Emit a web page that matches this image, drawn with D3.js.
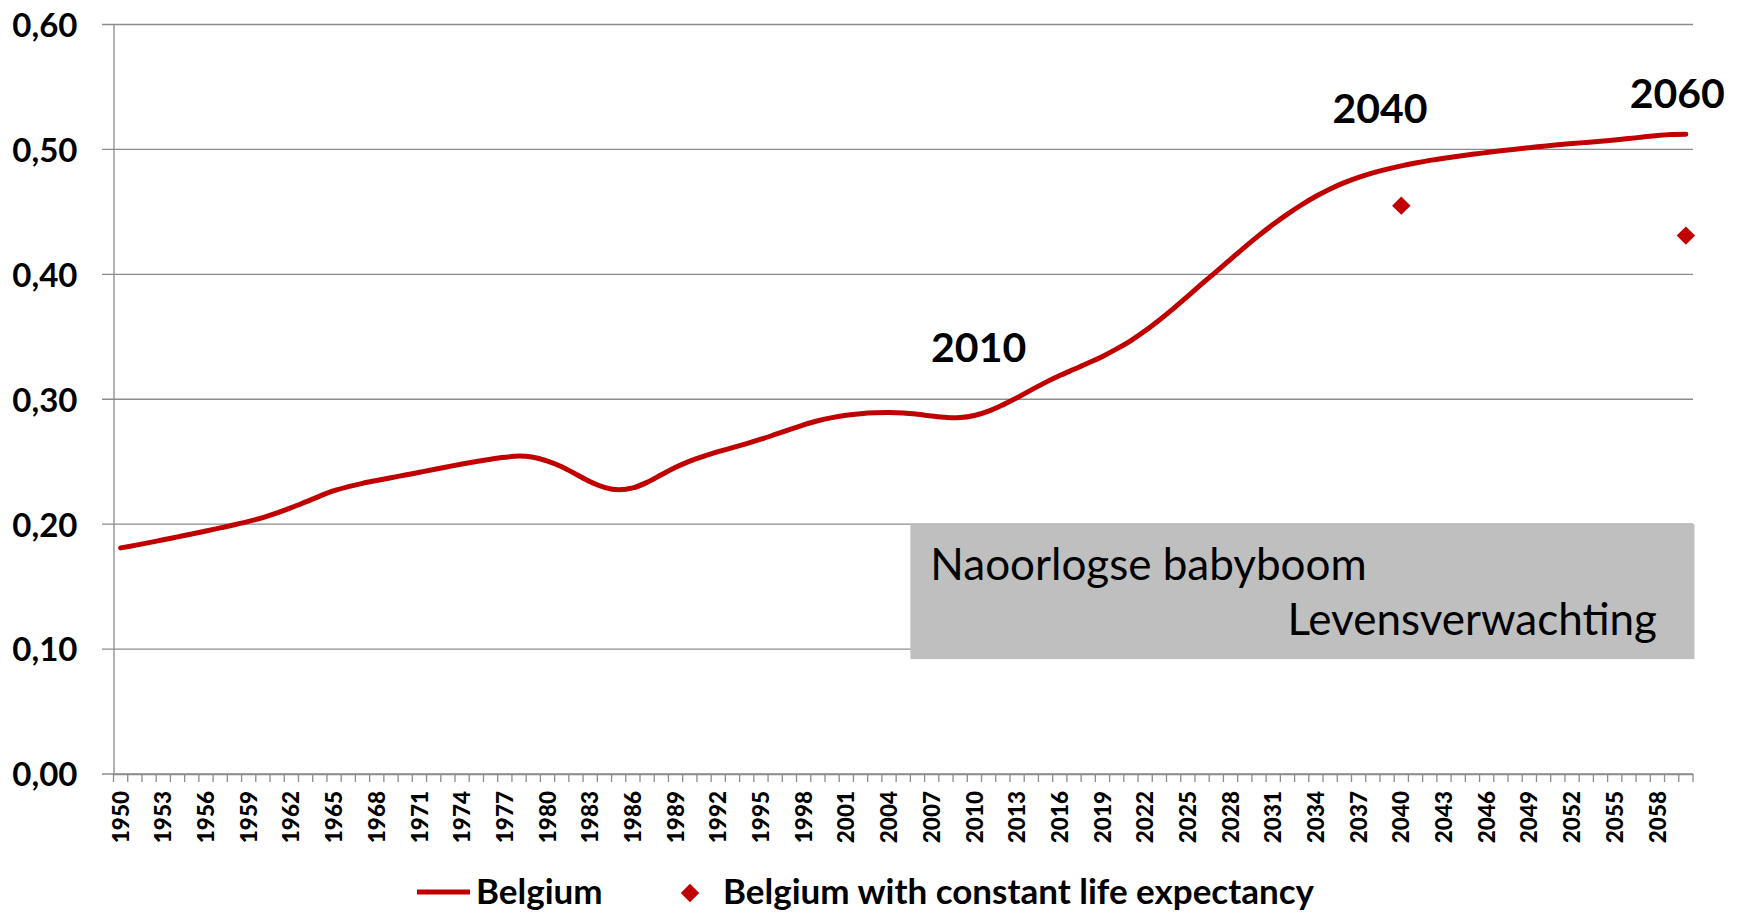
<!DOCTYPE html>
<html>
<head>
<meta charset="utf-8">
<script src="https://cdn.jsdelivr.net/npm/d3@7"></script>
<style>
  body { margin: 0; background: #fff; }
  text { font-family: Lato, "Open Sans", sans-serif; }
</style>
</head>
<body>
<div id="chart"></div>
<script>
// Belgium - ratio over the years (1950-2060)
var years = d3.range(1950, 2061);

var belgium = [
  0.1810, 0.1830, 0.1852, 0.1875, 0.1898, 0.1921, 0.1945, 0.1970, 0.1995, 0.2022,
  0.2053, 0.2090, 0.2132, 0.2178, 0.2225, 0.2268, 0.2300, 0.2327, 0.2350, 0.2372,
  0.2393, 0.2415, 0.2437, 0.2460, 0.2482, 0.2502, 0.2520, 0.2535, 0.2545, 0.2535,
  0.2505, 0.2460, 0.2400, 0.2340, 0.2295, 0.2275, 0.2290, 0.2335, 0.2395, 0.2455,
  0.2505, 0.2545, 0.2580, 0.2612, 0.2645, 0.2680, 0.2718, 0.2757, 0.2795, 0.2828,
  0.2853, 0.2872, 0.2884, 0.2891, 0.2893, 0.2890, 0.2880, 0.2866, 0.2855, 0.2853,
  0.2870, 0.2905, 0.2955, 0.3012, 0.3075, 0.3135, 0.3190, 0.3240, 0.3290, 0.3343,
  0.3403, 0.3470, 0.3548, 0.3635, 0.3728, 0.3825, 0.3925, 0.4022, 0.4120, 0.4218,
  0.4312, 0.4400, 0.4482, 0.4557, 0.4625, 0.4684, 0.4734, 0.4776, 0.4812, 0.4842,
  0.4868, 0.4891, 0.4912, 0.4930, 0.4946, 0.4961, 0.4975, 0.4989, 0.5002, 0.5014,
  0.5026, 0.5037, 0.5047, 0.5056, 0.5065, 0.5075, 0.5087, 0.5100, 0.5112, 0.5120,
  0.5122
];

// constant life expectancy scenario (only two points)
var constYears = [2040, 2060];
var constValues = [0.455, 0.431];

var yTicks = [0, 0.1, 0.2, 0.3, 0.4, 0.5, 0.6];
var xLabelYears = d3.range(1950, 2059, 3);

var notes = [
  { text: "2010", year: 2010.3, value: 0.330 },
  { text: "2040", year: 2038.5, value: 0.5215 },
  { text: "2060", year: 2059.4, value: 0.5335 }
];

var svgWidth = 1740;
var svgHeight = 913;

var margin = { top: 24.5, right: 47, bottom: 139, left: 113.5 };
var width = svgWidth - margin.left - margin.right;
var height = svgHeight - margin.top - margin.bottom;

var red = "#C00000";
var grid = "#8c8c8c";

var svg = d3.select("#chart")
  .append("svg")
  .attr("width", svgWidth)
  .attr("height", svgHeight);

var chartGroup = svg.append("g")
  .attr("transform", `translate(${margin.left}, ${margin.top})`);

// scales
var xBand = d3.scaleBand()
  .domain(years)
  .range([0, width])
  .padding(0);
var bw = xBand.bandwidth();
var xc = function (yr) { return xBand(Math.floor(yr)) + bw / 2 + (yr - Math.floor(yr)) * bw; };

var yScale = d3.scaleLinear()
  .domain([0, 0.6])
  .range([height, 0]);

var nl = d3.formatLocale({ decimal: ",", thousands: ".", grouping: [3], currency: ["", " €"] });

// gridlines
chartGroup.selectAll(".grid")
  .data(yTicks)
  .enter()
  .append("line")
  .attr("x1", -11.5)
  .attr("x2", width)
  .attr("y1", d => yScale(d))
  .attr("y2", d => yScale(d))
  .attr("stroke", grid)
  .attr("stroke-width", 1.3);

// y axis
var leftAxis = d3.axisLeft(yScale)
  .tickValues(yTicks)
  .tickFormat(nl.format(".2f"))
  .tickSize(0)
  .tickPadding(36);

var yAxisG = chartGroup.append("g").call(leftAxis);
yAxisG.select(".domain").attr("stroke", grid).attr("stroke-width", 1.3);
yAxisG.selectAll("text")
  .attr("font-family", "Lato, sans-serif")
  .attr("font-size", 33)
  .attr("font-weight", "bold")
  .attr("fill", "#000")
  .attr("dy", "0.36em");

// x axis
var bottomAxis = d3.axisBottom(xBand)
  .tickValues(xLabelYears)
  .tickSize(0)
  .tickPadding(0);

var xAxisG = chartGroup.append("g")
  .attr("transform", `translate(0, ${height})`)
  .call(bottomAxis);
xAxisG.select(".domain").attr("stroke", grid).attr("stroke-width", 1.3);
xAxisG.selectAll("text")
  .attr("font-family", "Lato, sans-serif")
  .attr("font-size", 22.5)
  .attr("font-weight", "900")
  .attr("fill", "#000")
  .attr("text-anchor", "end")
  .attr("transform", "translate(0, 17) rotate(-90)")
  .attr("x", 0)
  .attr("y", 0)
  .attr("dy", "0.36em");

// tick marks between categories
xAxisG.selectAll(".catTick")
  .data(years.concat([2061]))
  .enter()
  .append("line")
  .attr("x1", d => d === 2061 ? width : xBand(d))
  .attr("x2", d => d === 2061 ? width : xBand(d))
  .attr("y1", 0)
  .attr("y2", 8)
  .attr("stroke", grid)
  .attr("stroke-width", 1.3);

// annotation box
var boxX = xBand(2006);
chartGroup.append("rect")
  .attr("x", boxX)
  .attr("y", yScale(0.2))
  .attr("width", width - boxX + 1.5)
  .attr("height", yScale(0.092) - yScale(0.2))
  .attr("fill", "#bfbfbf");

chartGroup.append("text")
  .attr("x", boxX + 20)
  .attr("y", yScale(0.2) + 56)
  .attr("font-size", 44)
  .attr("fill", "#000")
  .text("Naoorlogse babyboom");

chartGroup.append("text")
  .attr("x", width - 36)
  .attr("y", yScale(0.2) + 111)
  .attr("text-anchor", "end")
  .attr("font-size", 44)
  .attr("fill", "#000")
  .text("Levensverwachting");

// main line
var line = d3.line()
  .x((d, i) => xBand(years[i]) + bw / 2)
  .y(d => yScale(d))
  .curve(d3.curveCatmullRom.alpha(0.5));

chartGroup.append("path")
  .datum(belgium)
  .attr("d", line)
  .attr("fill", "none")
  .attr("stroke", red)
  .attr("stroke-width", 5)
  .attr("stroke-linecap", "round");

// constant life expectancy diamonds
var diamond = d3.symbol().type(d3.symbolSquare).size(170);
chartGroup.selectAll(".dia")
  .data(constValues)
  .enter()
  .append("path")
  .attr("d", diamond)
  .attr("fill", red)
  .attr("transform", (d, i) => `translate(${xBand(constYears[i]) + bw / 2}, ${yScale(d)}) rotate(45)`);

// year labels on the chart
chartGroup.selectAll(".note")
  .data(notes)
  .enter()
  .append("text")
  .attr("x", d => xc(d.year))
  .attr("y", d => yScale(d.value))
  .attr("text-anchor", "middle")
  .attr("font-size", 41)
  .attr("font-weight", "bold")
  .attr("fill", "#000")
  .text(d => d.text);

// legend
var legend = svg.append("g");
legend.append("line")
  .attr("x1", 417).attr("x2", 470)
  .attr("y1", 892).attr("y2", 892)
  .attr("stroke", red)
  .attr("stroke-width", 5);
legend.append("text")
  .attr("x", 476).attr("y", 904)
  .attr("font-size", 35)
  .attr("font-weight", "bold")
  .text("Belgium");
legend.append("path")
  .attr("d", diamond)
  .attr("fill", red)
  .attr("transform", "translate(690, 893) rotate(45)");
legend.append("text")
  .attr("x", 723).attr("y", 904)
  .attr("font-size", 35)
  .attr("font-weight", "bold")
  .text("Belgium with constant life expectancy");
</script>
</body>
</html>
